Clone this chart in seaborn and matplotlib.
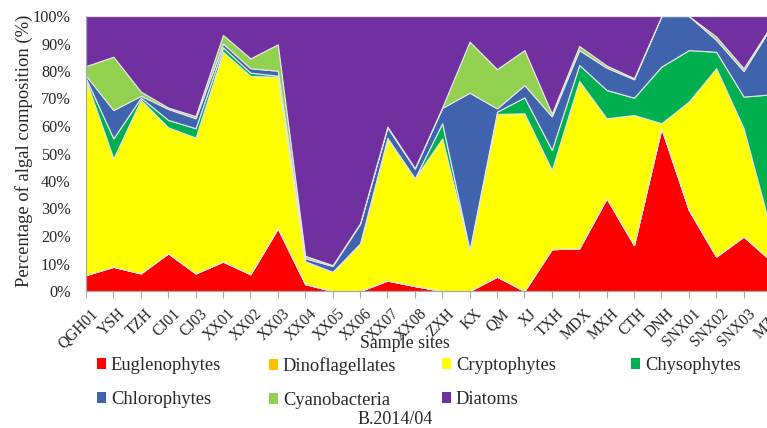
import matplotlib
matplotlib.use("Agg")
import matplotlib.pyplot as plt
from matplotlib.patches import Patch
from matplotlib.transforms import ScaledTranslation
import seaborn as sns
import numpy as np
import pandas as pd

sites = ["QGH01", "YSH", "TZH", "CJ01", "CJ03", "XX01", "XX02", "XX03", "XX04", "XX05",
         "XX06", "XX07", "XX08", "ZXH", "KX", "QM", "XJ", "TXH", "MDX", "MXH",
         "CTH", "DNH", "SNX01", "SNX02", "SNX03", "MZX"]

euglenophytes   = [5.8, 8.8, 6.4, 13.7, 6.4, 10.7, 6.1, 22.8, 2.5, 0.0, 0.0, 3.8, 1.8, 0.0, 0.0, 5.2, 0.0, 15.2, 15.5, 33.7, 16.7, 59.2, 29.5, 12.5, 19.8, 11.0]
dinoflagellates = [0.0] * 26
cryptophytes    = [70.9, 39.4, 63.1, 45.8, 49.4, 76.3, 72.1, 55.1, 8.2, 7.0, 17.3, 51.7, 39.2, 55.5, 14.9, 59.2, 64.6, 28.8, 60.9, 29.1, 47.3, 1.8, 39.4, 68.5, 39.4, 11.0]
chrysophytes    = [0.6, 7.3, 0.8, 2.7, 3.4, 1.6, 1.2, 0.4, 0.1, 0.0, 0.0, 0.2, 0.0, 5.5, 0.1, 0.8, 5.8, 7.3, 5.8, 10.3, 6.3, 20.6, 18.7, 6.0, 11.5, 49.5]
chlorophytes    = [1.0, 10.3, 0.7, 4.0, 3.6, 1.4, 1.6, 1.8, 1.1, 2.1, 7.1, 3.8, 3.5, 5.6, 57.1, 1.2, 4.5, 12.2, 5.4, 8.1, 6.7, 18.4, 12.4, 4.3, 9.3, 24.5]
cyanobacteria   = [3.5, 19.4, 1.5, 0.5, 0.8, 3.1, 3.6, 9.6, 0.9, 0.3, 0.2, 0.3, 0.2, 0.2, 18.6, 14.3, 12.7, 1.0, 1.5, 0.8, 0.4, 0.0, 0.0, 1.2, 1.0, 0.5]
diatoms         = [18.2, 14.8, 27.5, 33.3, 36.4, 6.9, 15.4, 10.3, 87.2, 90.6, 75.4, 40.2, 55.3, 33.2, 9.3, 19.3, 12.4, 35.5, 10.9, 18.0, 22.6, 0.0, 0.0, 7.5, 19.0, 3.5]

groups = ["Euglenophytes", "Dinoflagellates", "Cryptophytes", "Chysophytes",
          "Chlorophytes", "Cyanobacteria", "Diatoms"]
colors = ["#FF0000", "#FFC000", "#FFFF00", "#00B050", "#3F64AD", "#92D050", "#7030A0"]

df = pd.DataFrame({
    "Euglenophytes": euglenophytes, "Dinoflagellates": dinoflagellates,
    "Cryptophytes": cryptophytes, "Chysophytes": chrysophytes,
    "Chlorophytes": chlorophytes, "Cyanobacteria": cyanobacteria, "Diatoms": diatoms,
}, index=sites)
pct = df.div(df.sum(axis=1), axis=0) * 100

sns.set_theme(style="white")
plt.rcParams["font.family"] = ["Liberation Serif", "DejaVu Serif"]

fig = plt.figure(figsize=(7.67, 4.28), dpi=100)
ax = fig.add_axes([86 / 767, 137 / 428, 685 / 767, 275 / 428])

x = np.arange(len(sites))
ax.stackplot(x, [pct[g].values for g in groups], colors=colors,
             edgecolor="#e6e6e6", linewidth=0.8)

ax.set_xlim(0, len(sites) - 1)
ax.set_ylim(0, 100)
ax.set_yticks(np.arange(0, 101, 10))
ax.set_yticklabels([f"{v}%" for v in range(0, 101, 10)], fontsize=11.7)
ax.set_xticks(x)
ax.set_xticklabels(sites, rotation=45, ha="right", rotation_mode="anchor", fontsize=11.2)
ax.tick_params(axis="y", length=0, pad=11)
ax.tick_params(axis="x", length=5, width=0.8, color="#a6a6a6", pad=5, direction="out", bottom=True)
shift = ScaledTranslation(4 / 100, -1 / 100, fig.dpi_scale_trans)
for lab in ax.get_xticklabels():
    lab.set_transform(lab.get_transform() + shift)
sns.despine(ax=ax, top=True, right=True)
for s in ["left", "bottom"]:
    ax.spines[s].set_color("#a6a6a6")
    ax.spines[s].set_linewidth(0.8)

fig.text(24 / 767, 1 - 151 / 428, "Percentage of algal composition (%)", rotation=90,
         ha="center", va="center", fontsize=13.4)
fig.text(404.7 / 767, 1 - 344 / 428, "Sample sites", ha="center", va="center", fontsize=12.8)
fig.text(395 / 767, 1 - 420 / 428, "B.2014/04", ha="center", va="center", fontsize=13)

cols = [(97, ["Euglenophytes", "Chlorophytes"]),
        (269, ["Dinoflagellates", "Cyanobacteria"]),
        (442, ["Cryptophytes", "Diatoms"]),
        (631, ["Chysophytes"])]
cmap = dict(zip(groups, colors))
for xpx, labs in cols:
    handles = [Patch(facecolor=cmap[l], edgecolor="none") for l in labs]
    fig.legend(handles, labs, loc="upper left", bbox_to_anchor=(xpx / 767, 1 - 357 / 428),
               frameon=False, fontsize=13.3, handlelength=0.5, handleheight=0.5,
               handletextpad=0.25, borderpad=0, borderaxespad=0, labelspacing=0.92)

fig.savefig("out.png", dpi=100)
